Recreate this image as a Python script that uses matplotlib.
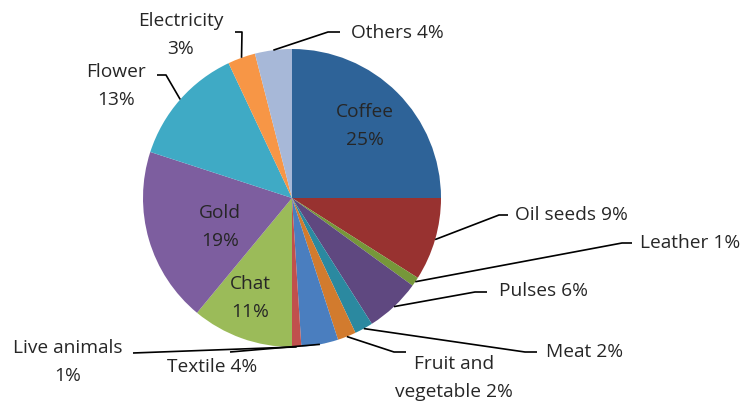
import numpy as np
import matplotlib.pyplot as plt

plt.rcParams['font.family'] = ['Open Sans', 'DejaVu Sans']

# export shares, clockwise from 12 o'clock
products = ['Coffee', 'Oil seeds', 'Leather', 'Pulses', 'Meat', 'Fruit and\nvegetable',
            'Textile', 'Live animals', 'Chat', 'Gold', 'Flower', 'Electricity', 'Others']
shares = [25, 9, 1, 6, 2, 2, 4, 1, 11, 19, 13, 3, 4]
colors = ['#2E6398', '#983230', '#76973A', '#5F4880', '#2B89A0', '#D27B2E', '#4A7EBF',
          '#C0504D', '#9BBB59', '#7D5E9F', '#3FAAC5', '#F79646', '#A7B8D8']

# label text, position, alignment and leader elbow (None for labels inside the pie)
label_text = ['Coffee\n25%', 'Oil seeds 9%', 'Leather 1%', 'Pulses 6%', 'Meat 2%',
              'Fruit and\nvegetable 2%', 'Textile 4%', 'Live animals\n1%', 'Chat\n11%',
              'Gold\n19%', 'Flower\n13%', 'Electricity\n3%', 'Others 4%']
label_pos = [(365, 126), (515, 215), (640, 243), (499, 291), (546, 352), (454, 378),
             (212, 367), (68, 362), (250, 298), (220, 227), (116, 86), (181, 35), (351, 33)]
label_ha = ['center', 'left', 'left', 'left', 'left', 'center', 'center', 'center',
            'center', 'center', 'center', 'center', 'left']
elbows = [None, [(499, 215), (508, 215)], [(622, 243), (632, 243)], [(475, 292), (487, 292)],
          [(525, 352), (537, 352)], [(394, 352), (406, 352)], [(230, 352)], [(133, 353)],
          None, None, [(166, 75), (157, 75)], [(242, 32), (235, 32)], [(328, 32), (340, 32)]]

W, H = 744, 405
cx, cy, r = 292, 198, 149

fig = plt.figure(figsize=(W / 100, H / 100), dpi=100)
ax = fig.add_axes([0, 0, 1, 1])

# y axis runs downward, so counterclock in data space draws clockwise on screen
wedges, _ = ax.pie(shares, colors=colors, center=(cx, cy), radius=r, startangle=-90,
                   counterclock=True, wedgeprops=dict(linewidth=0), frame=True)
ax.set_xlim(0, W)
ax.set_ylim(H, 0)
ax.set_aspect('equal')
ax.axis('off')

for w, txt, pos, ha, elb in zip(wedges, label_text, label_pos, label_ha, elbows):
    ax.text(pos[0], pos[1], txt, ha=ha, va='center', fontsize=13.8, color='#262626',
            linespacing=1.75, multialignment='center')
    if elb is None:
        continue
    mid = np.deg2rad((w.theta1 + w.theta2) / 2)
    start = (cx + r * np.cos(mid), cy + r * np.sin(mid))
    pts = [start] + elb
    ax.plot([p[0] for p in pts], [p[1] for p in pts], color='black', lw=1.2,
            solid_capstyle='butt')

fig.savefig('out.png', dpi=100)
